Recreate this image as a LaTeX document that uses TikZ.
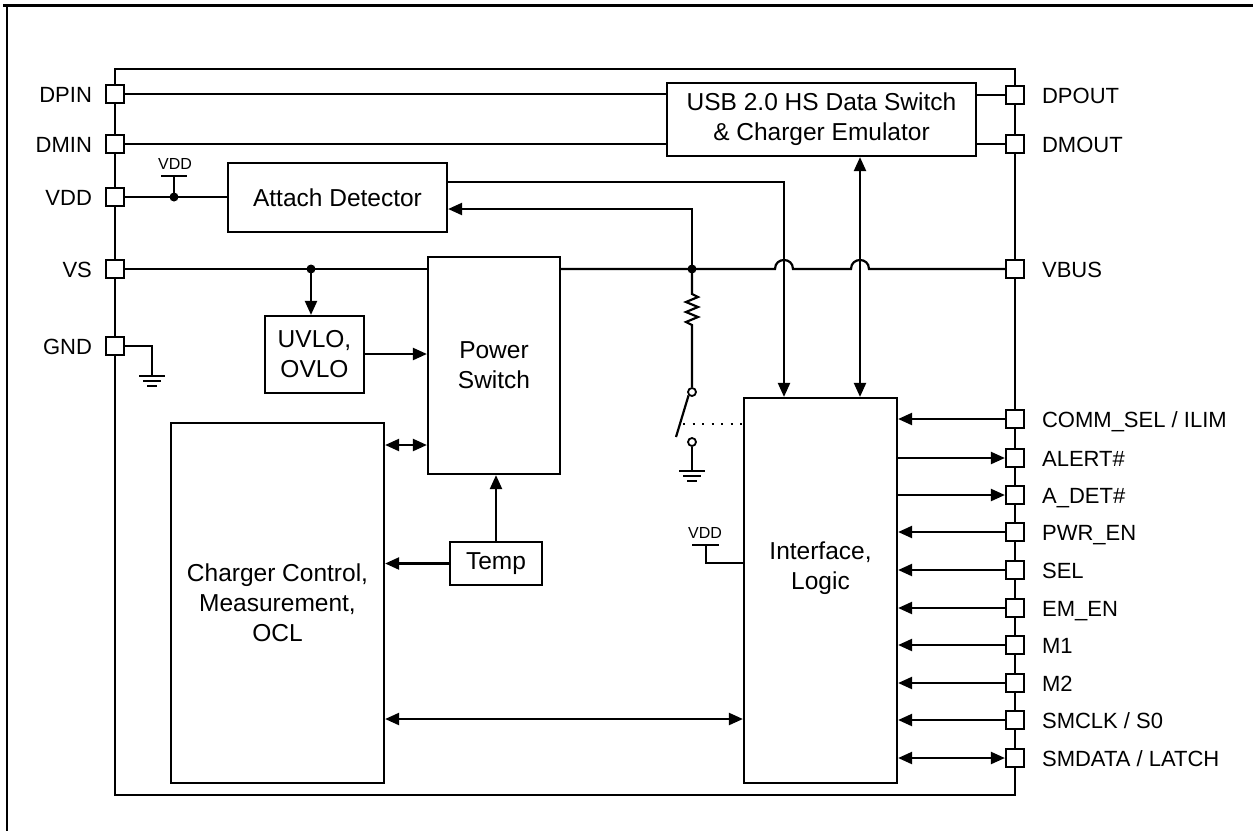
\documentclass[tikz,border=0pt]{standalone}
\usepackage{fontspec}
\setmainfont{Liberation Sans}
\usetikzlibrary{arrows.meta}
\newcommand\blkfont{\fontsize{24.5}{30}\selectfont}
\newcommand\pinfont{\fontsize{22}{26}\selectfont}
\newcommand\tinyfont{\fontsize{16}{18}\selectfont}
\begin{document}
\begin{tikzpicture}[x=1pt,y=-1pt,line width=2.2pt,
  blk/.style={draw, inner sep=0pt, align=center, font=\blkfont},
  pinbox/.style={draw, fill=white, minimum size=18pt, inner sep=0pt},
  lpin/.style={font=\pinfont, anchor=base east, inner sep=0pt},
  rpin/.style={font=\pinfont, anchor=base west, inner sep=0pt},
  vddlab/.style={font=\tinyfont, anchor=base, inner sep=0pt},
  arr/.style={-{Triangle[length=14pt,width=12pt]}},
  darr/.style={{Triangle[length=14pt,width=12pt]}-{Triangle[length=14pt,width=12pt]}},
  dot/.style={circle, fill, inner sep=0pt, minimum size=9pt},
  contact/.style={circle, draw, fill=white, inner sep=0pt, minimum size=8pt, line width=1.8pt},
]
\useasboundingbox (0,0) rectangle (1253,831);
% outer frame (top and left only)
\draw[line width=3pt] (3,5) -- (1253,5);
\draw (7,4) -- (7,831);

% chip outline
\node[draw, minimum width=900pt, minimum height=726pt, inner sep=0pt] (chip) at (565,432) {};

% helper coordinates
\coordinate (r182) at (0,182);
\coordinate (r209) at (0,209);
\coordinate (r354) at (0,354);
\coordinate (r424) at (0,424);
\coordinate (r445) at (0,445);
\coordinate (r563) at (0,563);
\coordinate (r719) at (0,719);
\coordinate (xa) at (784,0);
\coordinate (xb) at (860,0);

% blocks
\node[blk, minimum width=309pt, minimum height=73pt] (usb) at (821.5,119.5) {USB 2.0 HS Data Switch\\\& Charger Emulator};
\node[blk, minimum width=219pt, minimum height=69pt] (att) at (337.5,197.5) {Attach Detector};
\node[blk, minimum width=132pt, minimum height=217pt] (pws) at (494,365.5) {Power\\Switch};
\node[blk, minimum width=99pt, minimum height=77pt] (uvlo) at (314.5,354.5) {UVLO,\\OVLO};
\node[blk, minimum width=213pt, minimum height=360pt] (chg) at (277.5,603) {Charger Control,\\Measurement,\\OCL};
\node[blk, minimum width=92pt, minimum height=43pt] (temp) at (496,563.5) {Temp};
\node[blk, minimum width=153pt, minimum height=385pt] (ifc) at (820.5,590.5) {};
\node[font=\blkfont, align=center, inner sep=0pt] (ifctext) at (820.5,568) {Interface,\\Logic};

% left pins
\foreach \n/\y/\t in {dpin/94/DPIN, dmin/144/DMIN, vdd/197/VDD, vs/269/VS, gnd/346/GND} {
  \node[pinbox] (\n) at (115,\y) {};
  \node[lpin] (\n-l) at (93,\y+8) {\t};
}
% right pins
\node[pinbox] (dpout) at (1015,95) {};   \node[rpin] at (1041,103) {DPOUT};
\node[pinbox] (dmout) at (1015,144) {};  \node[rpin] at (1041,152) {DMOUT};
\node[pinbox] (vbus) at (1015,269) {};   \node[rpin] at (1041,277) {VBUS};
\node[pinbox] (comm) at (1015,419) {};   \node[rpin] at (1041,427) {COMM\_SEL / ILIM};
\node[pinbox] (alert) at (1015,458) {};  \node[rpin] at (1041,466) {ALERT\#};
\node[pinbox] (adet) at (1015,495) {};   \node[rpin] at (1041,503) {A\_DET\#};
\node[pinbox] (pwren) at (1015,532) {};  \node[rpin] at (1041,540) {PWR\_EN};
\node[pinbox] (sel) at (1015,570) {};    \node[rpin] at (1041,578) {SEL};
\node[pinbox] (emen) at (1015,608) {};   \node[rpin] at (1041,616) {EM\_EN};
\node[pinbox] (m1) at (1015,645) {};     \node[rpin] at (1041,653) {M1};
\node[pinbox] (m2) at (1015,683) {};     \node[rpin] at (1041,691) {M2};
\node[pinbox] (smclk) at (1015,720) {};  \node[rpin] at (1041,728) {SMCLK / S0};
\node[pinbox] (smdata) at (1015,758) {}; \node[rpin] at (1041,766) {SMDATA / LATCH};

% data lines
\draw (dpin.east) -- (usb.west |- dpin);
\draw (dmin.east) -- (usb.west |- dmin);
\draw (usb.east |- dpout) -- (dpout.west);
\draw (usb.east |- dmout) -- (dmout.west);

% VDD to attach detector
\coordinate (vddj) at (174,197);
\draw (vdd.east) -- (att.west |- vdd);
\node[dot] at (vddj) {};
\draw (vddj) -- (174,176);
\draw (161,176) -- (187,176);
\node[vddlab] (vdd1) at (175,169.5) {VDD};

% attach detector out to interface
\draw[arr] (att.east |- r182) -| (ifc.north -| xa);

% VS line
\coordinate (vsj1) at (311,269);
\coordinate (vsj2) at (692,269);
\draw (vs.east) -- (pws.west |- vs);
\node[dot] at (vsj1) {};
\draw[arr] (vsj1) -- (uvlo.north -| vsj1);
\draw[arr] (uvlo.east |- r354) -- (pws.west |- r354);

% power switch to VBUS with jumps
\draw (pws.east |- vbus) -- (775,269) .. controls (775,257) and (793,257) .. (793,269)
  -- (851,269) .. controls (851,257) and (869,257) .. (869,269) -- (vbus.west);
\node[dot] at (vsj2) {};
\draw[arr] (vsj2) -- (vsj2 |- r209) -- (att.east |- r209);

% resistor and switch
\node[contact] (sw1) at (692,392) {};
\node[contact] (sw2) at (692,442) {};
\draw[line join=miter] (vsj2) -- (692,294) -- (698,297) -- (686,302) -- (698,307) -- (686,312) -- (698,317) -- (686,322) -- (692,325) -- (sw1.north);
\draw (sw1.south west) -- (676,437);
\draw[dash pattern=on 2pt off 7.5pt] (683,424) -- (ifc.west |- r424);
\draw (sw2.south) -- (692,471);
\draw (679,471) -- (705,471);
\draw (683,476) -- (701,476);
\draw (687,481) -- (697,481);

% USB <-> interface
\draw[darr] (usb.south -| xb) -- (ifc.north -| xb);

% GND pin
\draw (gnd.east) -- (152,346) -- (152,376);
\draw (139,376) -- (165,376);
\draw (143,381) -- (161,381);
\draw (147,386) -- (157,386);

% charger connections
\draw[darr] (chg.east |- r445) -- (pws.west |- r445);
\draw[arr] (temp.north) -- (pws.south -| temp.north);
\draw[arr] (temp.west) -- (chg.east |- temp.west);
\draw[darr] (chg.east |- r719) -- (ifc.west |- r719);

% VDD at interface
\node[vddlab] (vdd2) at (705,538) {VDD};
\draw (692,545) -- (719,545);
\draw (706,545) -- (706,563) -- (ifc.west |- r563);

% right pin connections
\draw[arr] (comm.west) -- (ifc.east |- comm);
\draw[arr] (ifc.east |- alert) -- (alert.west);
\draw[arr] (ifc.east |- adet) -- (adet.west);
\draw[arr] (pwren.west) -- (ifc.east |- pwren);
\draw[arr] (sel.west) -- (ifc.east |- sel);
\draw[arr] (emen.west) -- (ifc.east |- emen);
\draw[arr] (m1.west) -- (ifc.east |- m1);
\draw[arr] (m2.west) -- (ifc.east |- m2);
\draw[arr] (smclk.west) -- (ifc.east |- smclk);
\draw[darr] (ifc.east |- smdata) -- (smdata.west);
\end{tikzpicture}
\end{document}
